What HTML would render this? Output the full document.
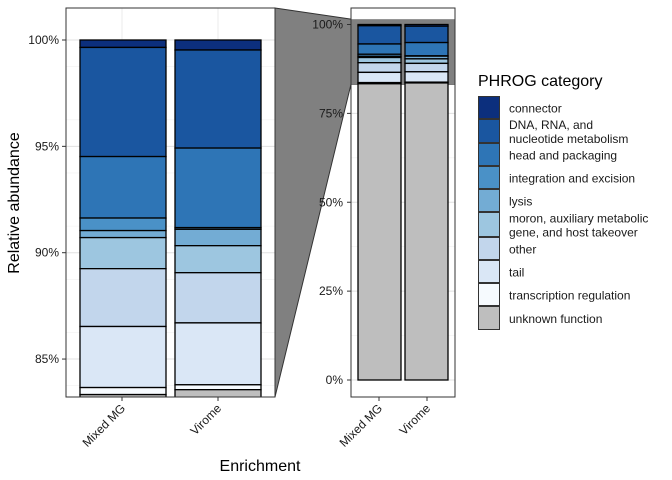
<!DOCTYPE html>
<html><head><meta charset="utf-8"><style>
html,body{margin:0;padding:0;background:#fff;font-family:"Liberation Sans",Arial,sans-serif;overflow:hidden}
svg{display:block}
svg text{font-family:"Liberation Sans",Arial,sans-serif}
</style></head><body>
<svg id="c" width="672" height="480" xmlns="http://www.w3.org/2000/svg"></svg>
<script>
const categories=["connector","DNA, RNA, and nucleotide metabolism","head and packaging","integration and excision","lysis","moron, auxiliary metabolic gene, and host takeover","other","tail","transcription regulation","unknown function"];
const colors=["#0c2f7d","#1a56a0","#2e75b6","#4a91c7","#73acd4","#9dc6e0","#c2d6ec","#dae7f6","#f6fafe","#bebebe"];
const groups=["Mixed MG","Virome"];
const mixedMG=[0.35,5.13,2.89,0.59,0.33,1.46,2.72,2.87,0.33,83.33];
const virome=[0.47,4.61,3.74,0.08,0.77,1.27,2.36,2.91,0.23,83.56];
const leftTicks=[85,90,95,100];
const rightTicks=[0,25,50,75,100];
const NS="http://www.w3.org/2000/svg";
const svg=document.getElementById("c");
function el(t,a,p){const e=document.createElementNS(NS,t);for(const k in a)e.setAttribute(k,a[k]);(p||svg).appendChild(e);return e;}
const series=[mixedMG,virome];
const yL=v=>40+(100-v)*21.27;
const yR=v=>380-v*3.555;
const xL=[80,175],xR=[358,405];
const bwL=86,bwR=43;
const lp=el("g",{});
el("rect",{x:66,y:8,width:209,height:389,fill:"#fff"},lp);
const defs=el("defs",{});
const cp=el("clipPath",{id:"cl"},defs);el("rect",{x:66,y:8,width:209,height:389},cp);
[83.75,86.25,88.75,91.25,93.75,96.25,98.75].forEach(v=>el("line",{x1:66,x2:275,y1:yL(v),y2:yL(v),stroke:"#f0f0f0","stroke-width":0.6},lp));
leftTicks.forEach(v=>{el("line",{x1:66,x2:275,y1:yL(v),y2:yL(v),stroke:"#e0e0e0","stroke-width":1},lp);
 el("line",{x1:62,x2:66,y1:yL(v),y2:yL(v),stroke:"#333"},lp);
 const t=el("text",{x:59,y:yL(v)+4,"text-anchor":"end","font-size":12,fill:"#1a1a1a"},lp);t.textContent=v+"%";
 });
[122,218].forEach(x=>el("line",{x1:x,x2:x,y1:8,y2:397,stroke:"#ebebeb"},lp));
const gb=el("g",{"clip-path":"url(#cl)"},lp);
series.forEach((s,gi)=>{let top=100;s.forEach((v,ci)=>{const bot=top-v;
 const r=el("rect",{x:xL[gi],y:yL(top),width:bwL,height:Math.max(0,yL(bot)-yL(top)),fill:colors[ci],stroke:"#000","stroke-width":1.3},gb);
 top=bot;});});
el("rect",{x:66,y:8,width:209,height:389,fill:"none",stroke:"#333","stroke-width":1},lp);
const poly=el("polygon",{points:`275,8 351,${yR(101.5)} 455,${yR(101.5)} 455,${yR(83.2)} 351,${yR(83.2)} 275,397`,fill:"#808080",stroke:"#333","stroke-width":1});

const rp=el("g",{});
el("rect",{x:351,y:8,width:104,height:12,fill:"#fff"},rp);
el("rect",{x:351,y:85,width:104,height:312,fill:"#fff"},rp);
[12.5,37.5,62.5,87.5].forEach(v=>{if(yR(v)>85)el("line",{x1:351,x2:455,y1:yR(v),y2:yR(v),stroke:"#f0f0f0","stroke-width":0.6},rp);});
el("rect",{x:351,y:yR(101.5),width:104,height:yR(83.2)-yR(101.5),fill:"#808080"},rp);
rightTicks.forEach(v=>{if(yR(v)>85)el("line",{x1:351,x2:455,y1:yR(v),y2:yR(v),stroke:"#e0e0e0"},rp);
 el("line",{x1:347,x2:351,y1:yR(v),y2:yR(v),stroke:"#333"},rp);
 const t=el("text",{x:343,y:yR(v)+4,"text-anchor":"end","font-size":12,fill:"#1a1a1a"},rp);t.textContent=v+"%";
 });
series.forEach((s,gi)=>{let top=100;s.forEach((v,ci)=>{const bot=top-v;
 const r=el("rect",{x:xR[gi],y:yR(top),width:bwR,height:yR(bot)-yR(top),fill:colors[ci],stroke:"#000","stroke-width":1.3},rp);
 top=bot;});});
el("rect",{x:351,y:8,width:104,height:389,fill:"none",stroke:"#333"},rp);
[[122,397],[218,397],[379,397],[427,397]].forEach((p,i)=>{
 el("line",{x1:p[0],x2:p[0],y1:397,y2:401,stroke:"#333"});
 const t=el("text",{x:0,y:0,"text-anchor":"end","font-size":12,fill:"#1a1a1a",transform:`translate(${p[0]+4},${409}) rotate(-45)`});
 t.textContent=groups[i%2];});
let t=el("text",{x:260,y:471,"text-anchor":"middle","font-size":16});t.textContent="Enrichment";

t=el("text",{x:0,y:0,"text-anchor":"middle","font-size":16,transform:"translate(19,203) rotate(-90)"});t.textContent="Relative abundance";

const lg=el("g",{});
t=el("text",{x:478,y:86,"font-size":16},lg);t.textContent="PHROG category";

const labels=[["connector"],["DNA, RNA, and","nucleotide metabolism"],["head and packaging"],["integration and excision"],["lysis"],["moron, auxiliary metabolic","gene, and host takeover"],["other"],["tail"],["transcription regulation"],["unknown function"]];
const ky=[96,119,143,166,189,212,237,260,283,306,330];
labels.forEach((l,i)=>{const g=el("g",{},lg);
 el("rect",{x:478.5,y:ky[i]+0.5,width:21,height:ky[i+1]-ky[i]-1,fill:colors[i],stroke:"#333","stroke-width":1},g);
 const c=(ky[i]+ky[i+1])/2;
 l.forEach((s,j)=>{const tt=el("text",{x:509,y:c+5+(l.length>1?(j?7:-7):0),"font-size":12,fill:"#1a1a1a"},g);tt.textContent=s;});});
</script>
</body></html>
